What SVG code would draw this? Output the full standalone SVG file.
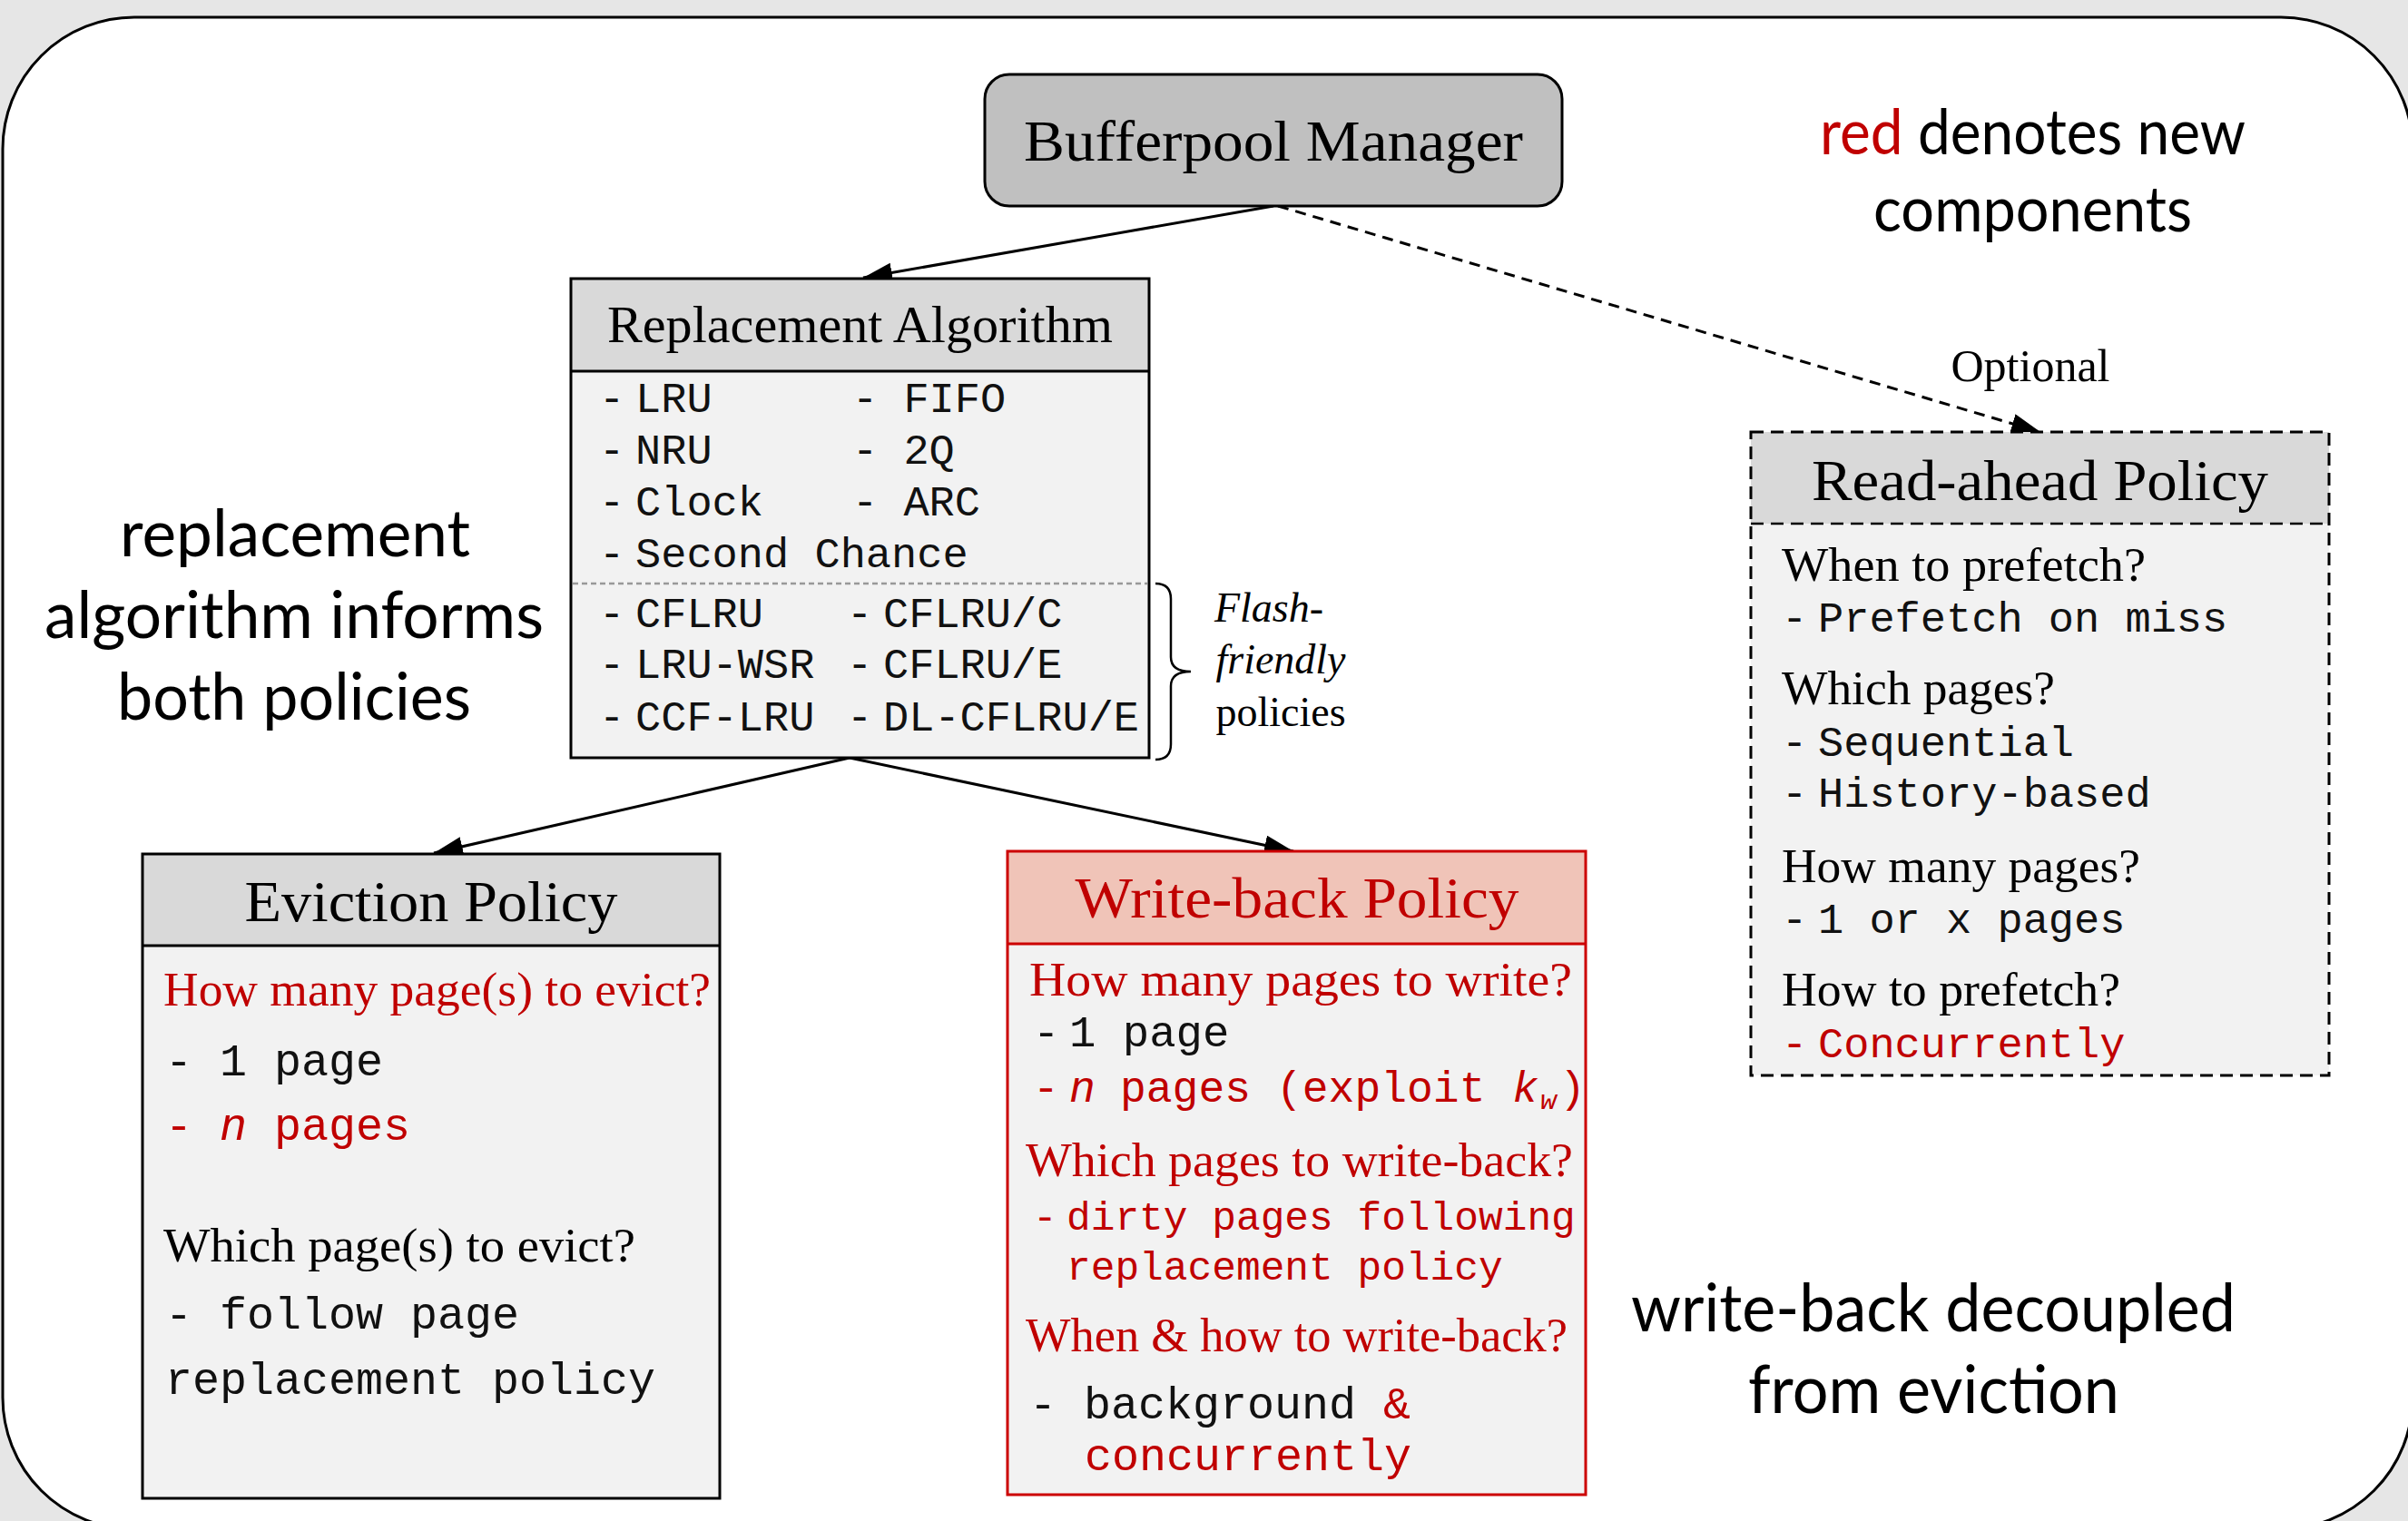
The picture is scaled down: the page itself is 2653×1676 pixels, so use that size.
<svg xmlns="http://www.w3.org/2000/svg" width="2653" height="1676" viewBox="0 0 2653 1676">
  <style>
    .serif { font-family: "Liberation Serif", "Times New Roman", serif; fill: #000; }
    .mono { font-family: "Liberation Mono", "Courier New", monospace; fill: #111; }
    .sans { font-family: Lato, "Open Sans", "Liberation Sans", sans-serif; fill: #000; }
    .red { fill: #c00000; }
    .title { font-size: 64px; }
    .q { font-size: 53px; }
    .it { font-style: italic; }
    .box { stroke: #000; stroke-width: 3; }
    .wire { stroke: #000; stroke-width: 3; fill: none; }
  </style>
  <defs>
    <marker id="arrow" markerUnits="userSpaceOnUse" markerWidth="34" markerHeight="24" refX="32" refY="11" orient="auto">
      <path d="M0,0 L32,11 L0,22 z" fill="#000"/>
    </marker>
  </defs>

  <!-- backdrop and rounded frame -->
  <rect x="0" y="0" width="2653" height="1676" fill="#e6e6e6"/>
  <rect x="3" y="19" width="2655" height="1666" rx="145" ry="145" fill="#fff" stroke="#000" stroke-width="3"/>

  <!-- connectors -->
  <g id="connectors">
    <line class="wire" x1="1403" y1="227" x2="951" y2="306" marker-end="url(#arrow)"/>
    <line class="wire" x1="1408" y1="227" x2="2248" y2="476" stroke-width="2.5" stroke-dasharray="12 8" marker-end="url(#arrow)"/>
    <line class="wire" x1="936" y1="835" x2="478" y2="940" marker-end="url(#arrow)"/>
    <line class="wire" x1="936" y1="835" x2="1425" y2="938" marker-end="url(#arrow)"/>
  </g>

  <!-- Bufferpool Manager -->
  <g id="bufferpool-manager">
    <rect class="box" x="1085" y="82" width="636" height="145" rx="27" fill="#c0c0c0"/>
    <text class="serif title" x="1403" y="177" text-anchor="middle" textLength="550" lengthAdjust="spacingAndGlyphs">Bufferpool Manager</text>
  </g>

  <!-- Replacement Algorithm -->
  <g id="replacement-algorithm">
    <rect x="629" y="307" width="637" height="102" fill="#d9d9d9"/>
    <rect x="629" y="409" width="637" height="426" fill="#f2f2f2"/>
    <rect class="box" x="629" y="307" width="637" height="528" fill="none"/>
    <line x1="629" y1="409" x2="1266" y2="409" stroke="#000" stroke-width="3"/>
    <line x1="631" y1="643" x2="1264" y2="643" stroke="#999" stroke-width="2.5" stroke-dasharray="6 4"/>
    <text class="serif" font-size="56" x="947.5" y="377" text-anchor="middle" textLength="557" lengthAdjust="spacingAndGlyphs">Replacement Algorithm</text>
    <g class="mono" font-size="47">
      <text x="660" y="454">-</text><text x="700" y="454">LRU</text>
      <text x="939" y="454">- FIFO</text>
      <text x="660" y="511">-</text><text x="700" y="511">NRU</text>
      <text x="939" y="511">- 2Q</text>
      <text x="660" y="568">-</text><text x="700" y="568">Clock</text>
      <text x="939" y="568">- ARC</text>
      <text x="660" y="625">-</text><text x="700" y="625">Second Chance</text>
      <text x="660" y="691">-</text><text x="700" y="691">CFLRU</text>
      <text x="933" y="691">-</text><text x="973" y="691">CFLRU/C</text>
      <text x="660" y="747">-</text><text x="700" y="747">LRU-WSR</text>
      <text x="933" y="747">-</text><text x="973" y="747">CFLRU/E</text>
      <text x="660" y="805">-</text><text x="700" y="805">CCF-LRU</text>
      <text x="933" y="805">-</text><text x="973" y="805">DL-CFLRU/E</text>
    </g>
  </g>

  <!-- flash-friendly brace and label -->
  <g id="flash-friendly">
    <path d="M1273,643 Q1290,643 1290,660 L1290,724 Q1290,740 1312,740 Q1290,740 1290,756 L1290,820 Q1290,837 1273,837" fill="none" stroke="#000" stroke-width="2.5"/>
    <text class="serif it" font-size="46" x="1398" y="685" text-anchor="middle">Flash-</text>
    <text class="serif it" font-size="46" x="1411" y="742" text-anchor="middle">friendly</text>
    <text class="serif" font-size="46" x="1411" y="800" text-anchor="middle">policies</text>
  </g>

  <!-- Read-ahead Policy (optional) -->
  <g id="read-ahead-policy">
    <text class="serif" font-size="50" x="2237" y="420" text-anchor="middle">Optional</text>
    <rect x="1929" y="476" width="637" height="101" fill="#d9d9d9"/>
    <rect x="1929" y="577" width="637" height="608" fill="#f2f2f2"/>
    <rect x="1929" y="476" width="637" height="709" fill="none" stroke="#000" stroke-width="3" stroke-dasharray="14 8"/>
    <line x1="1929" y1="577" x2="2566" y2="577" stroke="#000" stroke-width="2.5" stroke-dasharray="14 8"/>
    <text class="serif title" x="2247.5" y="551" text-anchor="middle" textLength="503" lengthAdjust="spacingAndGlyphs">Read-ahead Policy</text>
    <text class="serif q" x="1963" y="640" textLength="401" lengthAdjust="spacingAndGlyphs">When to prefetch?</text>
    <g class="mono" font-size="47">
      <text x="1963" y="696">-</text><text x="2003" y="696">Prefetch on miss</text>
    </g>
    <text class="serif q" x="1963" y="776" textLength="301" lengthAdjust="spacingAndGlyphs">Which pages?</text>
    <g class="mono" font-size="47">
      <text x="1963" y="833">-</text><text x="2003" y="833">Sequential</text>
      <text x="1963" y="889">-</text><text x="2003" y="889">History-based</text>
    </g>
    <text class="serif q" x="1963" y="972" textLength="395" lengthAdjust="spacingAndGlyphs">How many pages?</text>
    <g class="mono" font-size="47">
      <text x="1963" y="1028">-</text><text x="2003" y="1028">1 or x pages</text>
    </g>
    <text class="serif q" x="1963" y="1108" textLength="373" lengthAdjust="spacingAndGlyphs">How to prefetch?</text>
    <g class="mono" font-size="47">
      <text class="red" x="1963" y="1165">-</text><text class="red" x="2003" y="1165">Concurrently</text>
    </g>
  </g>

  <!-- Eviction Policy -->
  <g id="eviction-policy">
    <rect x="157" y="941" width="636" height="101" fill="#d9d9d9"/>
    <rect x="157" y="1042" width="636" height="609" fill="#f2f2f2"/>
    <rect class="box" x="157" y="941" width="636" height="710" fill="none"/>
    <line x1="157" y1="1042" x2="793" y2="1042" stroke="#000" stroke-width="3"/>
    <text class="serif title" x="475" y="1015" text-anchor="middle" textLength="411" lengthAdjust="spacingAndGlyphs">Eviction Policy</text>
    <text class="serif q red" x="180" y="1108" textLength="603" lengthAdjust="spacingAndGlyphs">How many page(s) to evict?</text>
    <text class="mono" font-size="50" x="182" y="1185">- 1 page</text>
    <text class="mono red" font-size="50" x="182" y="1256">- <tspan class="it">n</tspan> pages</text>
    <text class="serif q" x="180" y="1390" textLength="520" lengthAdjust="spacingAndGlyphs">Which page(s) to evict?</text>
    <text class="mono" font-size="50" x="182" y="1464">- follow page</text>
    <text class="mono" font-size="50" x="182" y="1536">replacement policy</text>
  </g>

  <!-- Write-back Policy -->
  <g id="write-back-policy">
    <rect x="1110" y="938" width="637" height="102" fill="#f0c4b8"/>
    <rect x="1110" y="1040" width="637" height="607" fill="#f2f2f2"/>
    <rect x="1110" y="938" width="637" height="709" fill="none" stroke="#cc0000" stroke-width="3"/>
    <line x1="1110" y1="1040" x2="1747" y2="1040" stroke="#cc0000" stroke-width="3"/>
    <text class="serif title red" x="1429" y="1011" text-anchor="middle" textLength="489" lengthAdjust="spacingAndGlyphs">Write-back Policy</text>
    <text class="serif q red" x="1134" y="1097" textLength="598" lengthAdjust="spacingAndGlyphs">How many pages to write?</text>
    <text class="mono" font-size="49" x="1138" y="1153">-</text>
    <text class="mono" font-size="49" x="1178" y="1153">1 page</text>
    <g class="mono" font-size="48">
      <text class="red" x="1138" y="1214">-</text>
      <text class="red it" x="1178" y="1214">n</text>
      <text class="red" x="1234" y="1214">pages</text>
      <text class="red" x="1406" y="1214">(exploit</text>
      <text class="red it" x="1666" y="1214">k</text>
      <text class="red it" font-size="30" x="1697" y="1222">w</text>
      <text class="red" x="1718" y="1214">)</text>
    </g>
    <text class="serif q red" x="1130" y="1296" textLength="603" lengthAdjust="spacingAndGlyphs">Which pages to write-back?</text>
    <text class="mono red" font-size="44.5" x="1138" y="1355">-</text>
    <text class="mono red" font-size="44.5" x="1175" y="1355">dirty pages following</text>
    <text class="mono red" font-size="44.5" x="1175" y="1410">replacement policy</text>
    <text class="serif q red" x="1130" y="1489" textLength="597" lengthAdjust="spacingAndGlyphs">When &amp; how to write-back?</text>
    <text class="mono" font-size="50" x="1134" y="1563">- background <tspan class="red">&amp;</tspan></text>
    <text class="mono red" font-size="50" x="1195" y="1620">concurrently</text>
  </g>

  <!-- annotations -->
  <g id="note-legend">
    <text class="sans" font-size="70" x="2239.5" y="170" text-anchor="middle" textLength="469" lengthAdjust="spacingAndGlyphs"><tspan class="red">red</tspan> denotes new</text>
    <text class="sans" font-size="70" x="2239.5" y="255" text-anchor="middle" textLength="351" lengthAdjust="spacingAndGlyphs">components</text>
  </g>
  <g id="note-replacement">
    <text class="sans" font-size="72" x="325" y="613" text-anchor="middle" textLength="386" lengthAdjust="spacingAndGlyphs">replacement</text>
    <text class="sans" font-size="72" x="324" y="703" text-anchor="middle" textLength="550" lengthAdjust="spacingAndGlyphs">algorithm informs</text>
    <text class="sans" font-size="72" x="324" y="793" text-anchor="middle" textLength="390" lengthAdjust="spacingAndGlyphs">both policies</text>
  </g>
  <g id="note-writeback">
    <text class="sans" font-size="74" x="2130" y="1467" text-anchor="middle" textLength="666" lengthAdjust="spacingAndGlyphs">write-back decoupled</text>
    <text class="sans" font-size="74" x="2130.5" y="1557" text-anchor="middle" textLength="409" lengthAdjust="spacingAndGlyphs">from eviction</text>
  </g>
</svg>
